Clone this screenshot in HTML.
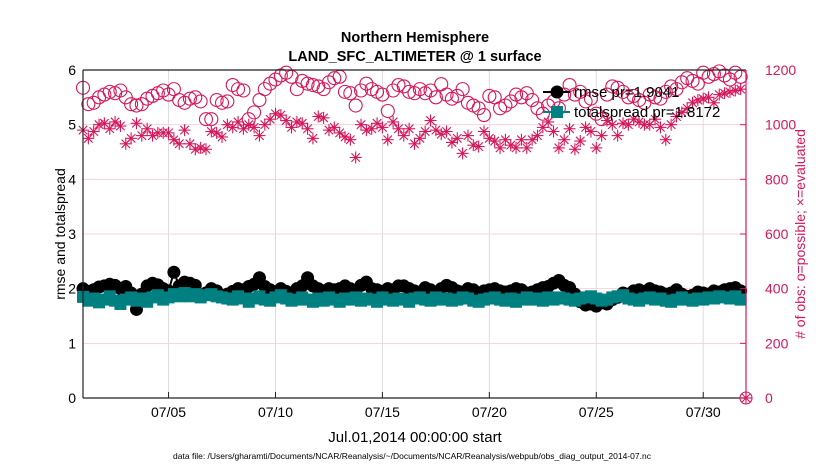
<!DOCTYPE html>
<html><head><meta charset="utf-8"><style>
body{margin:0;background:#fff;width:830px;height:470px;overflow:hidden;font-family:"Liberation Sans",sans-serif}
svg text{font-family:"Liberation Sans",sans-serif}
</style></head><body>
<svg id="chart" width="830" height="470" xmlns="http://www.w3.org/2000/svg">
<g id="grid"></g>
<g id="marks"></g>
<g id="axes"></g>
<text x="415" y="42" text-anchor="middle" font-size="14.5" font-weight="bold">Northern Hemisphere</text>
<text x="415" y="61" text-anchor="middle" font-size="14.5" font-weight="bold">LAND_SFC_ALTIMETER @ 1 surface</text>
<text transform="translate(65,234) rotate(-90)" text-anchor="middle" font-size="14">rmse and totalspread</text>
<text transform="translate(805,234) rotate(-90)" text-anchor="middle" font-size="14" fill="#d6175a"># of obs: o=possible; ×=evaluated</text>
<text x="415" y="442" text-anchor="middle" font-size="15">Jul.01,2014 00:00:00 start</text>
<text x="412" y="459" text-anchor="middle" font-size="8.5">data file: /Users/gharamti/Documents/NCAR/Reanalysis/~/Documents/NCAR/Reanalysis/webpub/obs_diag_output_2014-07.nc</text>
<g id="legend"></g>
</svg>
<script>
const xTickLabels=["07/05","07/10","07/15","07/20","07/25","07/30"];
const xTickDays=[4,9,14,19,24,29];
const yTicks=[0,1,2,3,4,5,6];
const y2Ticks=[0,200,400,600,800,1000,1200];
const rmse=[2.00,1.95,1.98,2.03,2.05,2.08,2.06,2.00,2.04,1.92,1.62,1.90,2.05,2.10,2.07,2.00,1.96,2.30,2.05,2.12,2.10,2.06,1.88,1.92,2.00,1.96,1.86,1.90,1.95,2.00,1.98,2.04,2.08,2.20,2.04,1.98,1.94,2.00,1.95,1.92,2.00,2.05,2.20,2.05,2.00,1.96,2.00,1.98,2.00,2.05,2.00,1.96,2.06,2.12,2.00,1.98,1.95,2.00,1.98,2.05,2.05,2.00,1.96,1.94,2.02,1.98,1.92,2.00,2.06,2.02,1.96,1.94,2.00,1.98,1.92,1.96,1.98,2.00,1.96,1.94,1.96,2.00,1.98,1.92,1.94,1.98,2.02,2.04,2.10,2.15,2.06,2.02,1.90,1.76,1.70,1.72,1.68,1.74,1.72,1.80,1.84,1.92,1.90,1.96,1.98,1.95,2.00,1.96,1.94,1.90,1.92,1.98,1.90,1.86,1.88,1.94,1.92,1.90,1.96,1.94,1.98,2.00,2.02,1.96];
const spread=[1.85,1.78,1.82,1.75,1.80,1.86,1.78,1.72,1.80,1.84,1.78,1.82,1.76,1.84,1.88,1.80,1.84,1.90,1.86,1.92,1.86,1.90,1.84,1.88,1.90,1.86,1.84,1.82,1.80,1.86,1.82,1.76,1.82,1.86,1.80,1.78,1.84,1.88,1.82,1.78,1.80,1.84,1.80,1.76,1.82,1.78,1.84,1.80,1.76,1.82,1.80,1.84,1.78,1.82,1.80,1.76,1.84,1.80,1.78,1.82,1.80,1.76,1.82,1.84,1.80,1.78,1.84,1.80,1.82,1.78,1.80,1.84,1.82,1.78,1.76,1.80,1.82,1.84,1.80,1.78,1.82,1.76,1.80,1.84,1.80,1.82,1.78,1.84,1.80,1.84,1.82,1.80,1.78,1.82,1.84,1.86,1.82,1.78,1.80,1.84,1.86,1.88,1.82,1.80,1.78,1.82,1.84,1.80,1.82,1.78,1.76,1.80,1.84,1.80,1.78,1.82,1.80,1.84,1.82,1.86,1.84,1.82,1.86,1.80];
const possible=[1135,1075,1080,1100,1110,1120,1115,1125,1100,1075,1070,1075,1095,1105,1115,1125,1110,1130,1090,1080,1095,1100,1085,1020,1020,1090,1080,1085,1145,1130,1125,1020,1045,1090,1130,1150,1165,1180,1190,1175,1130,1160,1150,1145,1140,1130,1155,1170,1175,1120,1115,1070,1125,1150,1130,1120,1110,1050,1125,1145,1140,1120,1115,1130,1115,1125,1100,1148,1110,1095,1105,1130,1080,1070,1060,1035,1105,1100,1060,1070,1085,1110,1100,1115,1090,1060,1040,1070,1085,1060,1110,1145,1110,1120,1085,1095,1040,1020,1110,1140,1135,1120,1100,1105,1090,1080,1110,1100,1095,1120,1140,1130,1155,1170,1160,1150,1190,1175,1185,1195,1180,1165,1190,1175];
const evaluated=[980,950,975,1000,1005,985,1010,995,930,950,1005,960,985,960,970,970,970,945,930,980,930,910,915,910,975,970,955,1000,990,1010,985,1000,990,960,1000,1020,1040,1035,1015,990,1010,1005,985,950,1030,1025,980,990,970,955,945,880,1000,980,985,1005,990,945,1010,985,960,985,930,950,975,1015,980,965,975,935,950,895,960,925,920,975,950,940,915,945,925,915,945,915,945,960,990,1010,975,915,945,985,910,940,990,975,915,960,1015,1000,960,1005,1000,1020,1010,1000,1000,1020,990,945,1000,1030,1045,1060,1080,1090,1095,1100,1080,1110,1115,1120,1125,1130];

const L=83,R=746,T=70,B=398,NS="http://www.w3.org/2000/svg";
const xs=d=>L+d*(R-L)/31;
const ys=v=>B-v*(B-T)/6;
const y2=v=>B-v*(B-T)/1200;
const CR="#d6175a",TE="#008080";
function mk(p,tag,at){const e=document.createElementNS(NS,tag);for(const k in at)e.setAttribute(k,at[k]);p.appendChild(e);return e;}
const grid=document.getElementById('grid'),marks=document.getElementById('marks'),axes=document.getElementById('axes'),leg=document.getElementById('legend');
xTickDays.forEach((d,i)=>{
 const g=mk(grid,'line',{x1:xs(d),x2:xs(d),y1:T,y2:B,stroke:'#dcdcdc','stroke-width':1});
 
 
 const t=mk(axes,'line',{x1:xs(d),x2:xs(d),y1:B,y2:B-6,stroke:'#222'});
 
 
 const tx=mk(axes,'text',{x:xs(d),y:B+19,'text-anchor':'middle','font-size':14});
 tx.textContent=xTickLabels[i];
 
 
});
yTicks.forEach(v=>{
 if(v>0&&v<6){const g=mk(grid,'line',{x1:L,x2:R,y1:ys(v),y2:ys(v),stroke:'#f6d3de','stroke-width':1});
 
 }
 const tx=mk(axes,'text',{x:L-7,y:ys(v)+5,'text-anchor':'end','font-size':14});
 tx.textContent=v;
 
 
});
y2Ticks.forEach(v=>{
 const t=mk(axes,'line',{x1:R,x2:R-6,y1:y2(v),y2:y2(v),stroke:CR});
 
 
 const tx=mk(axes,'text',{x:R+19,y:y2(v)+5,'font-size':14,fill:CR});
 tx.textContent=v;
 
 
});
function star(p,x,y,r,c){const g=mk(p,'g',{stroke:c,'stroke-width':1.1});
 for(let k=0;k<4;k++){const a=k*Math.PI/4;mk(g,'line',{x1:x-r*Math.cos(a),y1:y-r*Math.sin(a),x2:x+r*Math.cos(a),y2:y+r*Math.sin(a)});}return g;}
possible.forEach((v,i)=>{const c=mk(marks,'circle',{cx:xs(i*0.25),cy:y2(v),r:6.5,fill:'none',stroke:CR,'stroke-width':1.1});
 
 });
evaluated.forEach((v,i)=>{const s=star(marks,xs(i*0.25),y2(v),6,CR);
 
 });
const rl=mk(marks,'polyline',{points:rmse.map((v,i)=>xs(i*0.25)+','+ys(v)).join(' '),fill:'none',stroke:'#000','stroke-width':2});


rmse.forEach((v,i)=>{const c=mk(marks,'circle',{cx:xs(i*0.25),cy:ys(v),r:6.5,fill:'#000'});
 
 });
const sl=mk(marks,'polyline',{points:spread.map((v,i)=>xs(i*0.25)+','+ys(v)).join(' '),fill:'none',stroke:TE,'stroke-width':2});


spread.forEach((v,i)=>{const c=mk(marks,'rect',{x:xs(i*0.25)-6,y:ys(v)-6,width:12,height:12,fill:TE});
 
 });
const ab=mk(axes,'line',{x1:L,x2:R,y1:B,y2:B,stroke:'#222','stroke-width':1.2});


const al=mk(axes,'line',{x1:L,x2:L,y1:T,y2:B,stroke:'#222','stroke-width':1.2});


const at=mk(axes,'line',{x1:L,x2:R,y1:T,y2:T,stroke:'#222','stroke-width':1.2});


const ar=mk(axes,'line',{x1:R,x2:R,y1:T,y2:B,stroke:CR,'stroke-width':1.2});


const zc=mk(axes,'circle',{cx:R,cy:B,r:6,fill:'none',stroke:CR,'stroke-width':1.1});


star(axes,R,B,6,CR);
const l1=mk(leg,'line',{x1:543,x2:570,y1:92,y2:92,stroke:'#000','stroke-width':2});


const c1=mk(leg,'circle',{cx:557,cy:92,r:6.5,fill:'#000'});


const t1=mk(leg,'text',{x:574,y:97,'font-size':15});t1.textContent='rmse pr=1.9041';


const l2=mk(leg,'line',{x1:543,x2:570,y1:112,y2:112,stroke:TE,'stroke-width':2});


const c2=mk(leg,'rect',{x:551,y:106,width:12,height:12,fill:TE});


const t2=mk(leg,'text',{x:574,y:117,'font-size':15});t2.textContent='totalspread pr=1.8172';


</script>
</body></html>
